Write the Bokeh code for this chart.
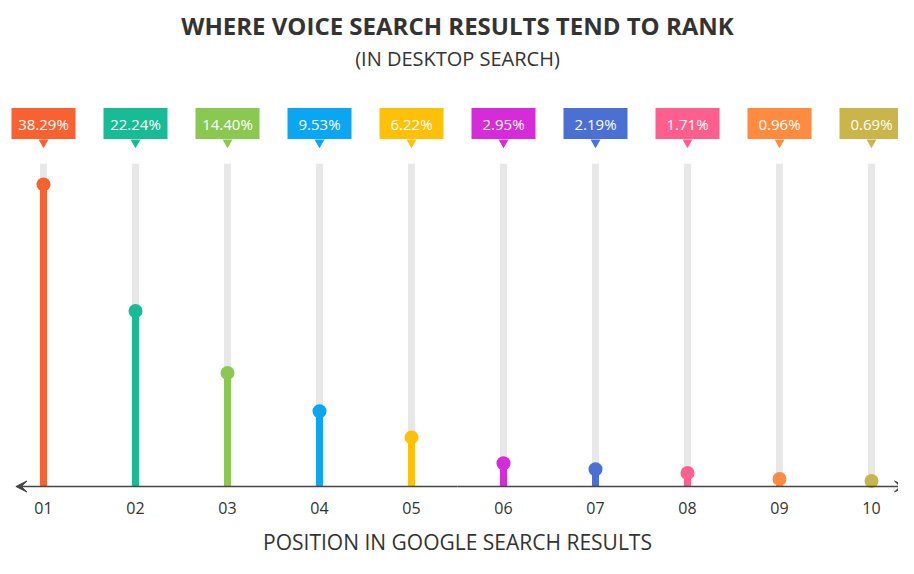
from bokeh.plotting import figure
from bokeh.models import ColumnDataSource, Label, Arrow, VeeHead, Range1d
from bokeh.core.properties import value
from bokeh.embed import file_html
from bokeh.resources import INLINE

positions = ["01", "02", "03", "04", "05", "06", "07", "08", "09", "10"]
shares = [38.29, 22.24, 14.40, 9.53, 6.22, 2.95, 2.19, 1.71, 0.96, 0.69]
colors = ["#FA6131", "#17BC94", "#8AC850", "#0AA6F2", "#FFC107", "#D62BD8",
          "#4A70D4", "#FF5E8E", "#FF8B40", "#C9B54A"]
labels = ["%.2f%%" % v for v in shares]

W, H = 898, 558
px_per_pos = 92.0
px_per_unit = 7.89
x0 = 1 - 43 / px_per_pos
y0 = -72 / px_per_unit
track_top = 40.9
box_y = 46.0
tri_y = 43.6

xs = list(range(1, len(positions) + 1))
src = ColumnDataSource(dict(x=xs, v=shares, c=colors, lab=labels, pos=positions,
                            zero=[0] * len(xs), top=[track_top] * len(xs),
                            by=[box_y] * len(xs), ty=[tri_y] * len(xs)))

p = figure(width=W, height=H, output_backend="svg", toolbar_location=None,
           x_range=Range1d(x0, x0 + W / px_per_pos),
           y_range=Range1d(y0, y0 + H / px_per_unit),
           min_border=0, outline_line_color=None, background_fill_color="white",
           border_fill_color="white")
p.axis.visible = False
p.grid.visible = False

# gray tracks
p.segment(x0="x", y0="zero", x1="x", y1="top", source=src, line_color="#E8E8E8",
          line_width=7, line_cap="butt")
# stems
p.segment(x0="x", y0="zero", x1="x", y1="v", source=src, line_color="c",
          line_width=7, line_cap="butt")
p.scatter(x="x", y="v", source=src, size=14, fill_color="c", line_color=None)

# baseline arrow
mid = (xs[0] + xs[-1]) / 2
for end_x in (xs[-1] + 0.37, xs[0] - 0.3):
    p.add_layout(Arrow(x_start=mid, y_start=0, x_end=end_x, y_end=0,
                       line_color="#444444", line_width=1.3,
                       end=VeeHead(size=11, fill_color="#444444", line_color="#444444")))

# label boxes
p.rect(x="x", y="by", width=64, height=31, width_units="screen", height_units="screen",
       source=src, fill_color="c", line_color=None)
p.scatter(x="x", y="ty", source=src, marker="inverted_triangle", size=10,
          fill_color="c", line_color=None)
p.text(x="x", y="by", text="lab", source=src, text_color="white",
       text_font=value("Open Sans"), text_font_size="15px", text_align="center",
       text_baseline="middle")

# tick labels
p.text(x="x", y="zero", text="pos", source=src, y_offset=21, text_color="#333333",
       text_font=value("Open Sans"), text_font_size="16px", text_align="center",
       text_baseline="middle")

p.add_layout(Label(x=W / 2 + 8, y=H - 25, x_units="screen", y_units="screen",
                   text="WHERE VOICE SEARCH RESULTS TEND TO RANK",
                   text_font="Open Sans", text_font_style="bold", text_font_size="24px",
                   text_color="#333333", text_align="center", text_baseline="middle"))
p.add_layout(Label(x=W / 2 + 8, y=H - 58, x_units="screen", y_units="screen",
                   text="(IN DESKTOP SEARCH)",
                   text_font="Open Sans", text_font_size="20px",
                   text_color="#333333", text_align="center", text_baseline="middle"))
p.add_layout(Label(x=W / 2 + 8, y=17, x_units="screen", y_units="screen",
                   text="POSITION IN GOOGLE SEARCH RESULTS",
                   text_font="Open Sans", text_font_size="21px",
                   text_color="#333333", text_align="center", text_baseline="middle"))

open("out.html", "w").write(file_html(p, INLINE))
